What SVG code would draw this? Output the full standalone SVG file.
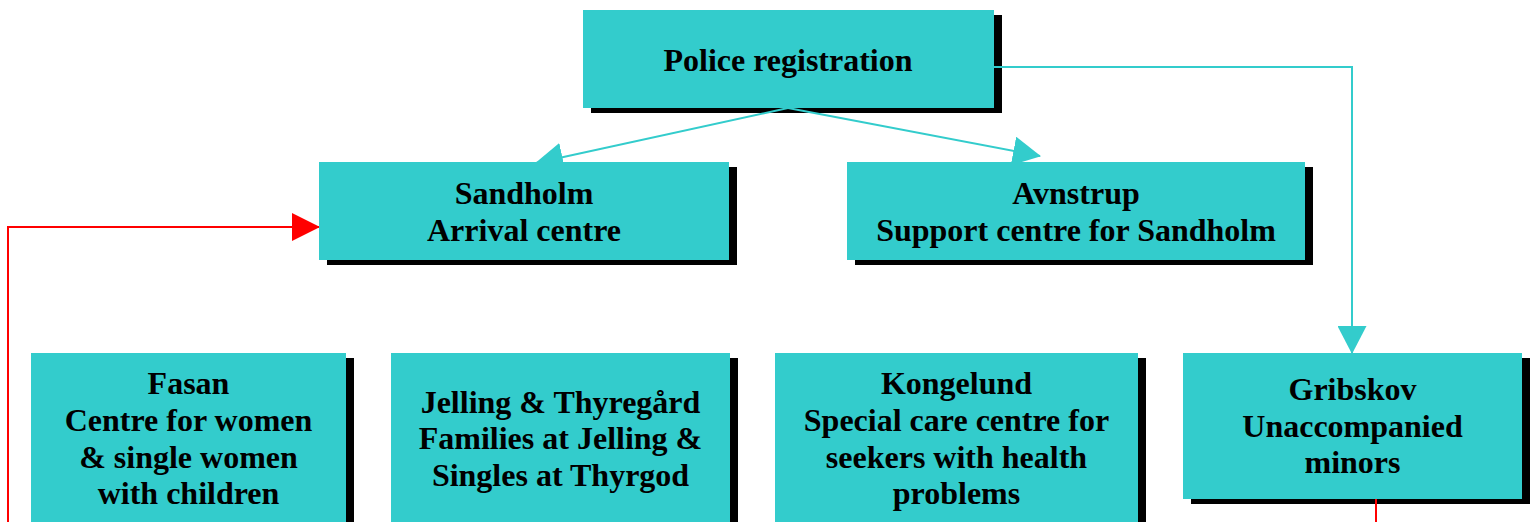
<svg xmlns="http://www.w3.org/2000/svg" width="1533" height="522" viewBox="0 0 1533 522">
  <style>
    .box { fill: #33CCCC; }
    .shadow { fill: #000000; }
    .label { font-family: "Liberation Serif", "Times New Roman", serif; font-weight: bold; font-size: 32px; fill: #000000; text-anchor: middle; }
    .teal { fill: none; stroke: #33CCCC; stroke-width: 2; }
    .red { fill: none; stroke: #FF0000; stroke-width: 2; }
  </style>
  <defs>
    <marker id="arrTeal" markerUnits="userSpaceOnUse" markerWidth="28" markerHeight="29" refX="27" refY="14.5" orient="auto" viewBox="0 0 28 29">
      <path d="M0,0 L28,14.5 L0,29 Z" fill="#33CCCC"/>
    </marker>
    <marker id="arrRed" markerUnits="userSpaceOnUse" markerWidth="28" markerHeight="28" refX="27" refY="14" orient="auto" viewBox="0 0 28 28">
      <path d="M0,0 L28,14 L0,28 Z" fill="#FF0000"/>
    </marker>
  </defs>

  <g id="police">
    <rect class="shadow" x="591" y="15" width="411" height="98"/>
    <rect class="box" x="583" y="10" width="411" height="98"/>
    <text class="label" x="788" y="71">Police registration</text>
  </g>

  <g id="gribskov">
    <rect class="shadow" x="1191" y="358" width="339" height="146"/>
    <rect class="box" x="1183" y="353" width="339" height="146"/>
    <text class="label" x="1352.5" y="400">Gribskov</text>
    <text class="label" x="1352.5" y="437">Unaccompanied</text>
    <text class="label" x="1352.5" y="473">minors</text>
  </g>

  <g id="connectors">
    <path class="teal" d="M788,108 L536,163" marker-end="url(#arrTeal)"/>
    <path class="teal" d="M788,108 L1040,156" marker-end="url(#arrTeal)"/>
    <path class="teal" d="M994,67 H1352 V353" marker-end="url(#arrTeal)"/>
    <path class="red" d="M1376,499 V560 H8 V227 H319" marker-end="url(#arrRed)"/>
  </g>

  <g id="sandholm">
    <rect class="shadow" x="327" y="167" width="410" height="98"/>
    <rect class="box" x="319" y="162" width="410" height="98"/>
    <text class="label" x="524" y="204">Sandholm</text>
    <text class="label" x="524" y="241">Arrival centre</text>
  </g>

  <g id="avnstrup">
    <rect class="shadow" x="855" y="167" width="458" height="98"/>
    <rect class="box" x="847" y="162" width="458" height="98"/>
    <text class="label" x="1076" y="204">Avnstrup</text>
    <text class="label" x="1076" y="241">Support centre for Sandholm</text>
  </g>

  <g id="fasan">
    <rect class="shadow" x="39" y="358" width="315" height="200"/>
    <rect class="box" x="31" y="353" width="315" height="200"/>
    <text class="label" x="188.5" y="394">Fasan</text>
    <text class="label" x="188.5" y="431">Centre for women</text>
    <text class="label" x="188.5" y="468">&amp; single women</text>
    <text class="label" x="188.5" y="504">with children</text>
  </g>

  <g id="jelling">
    <rect class="shadow" x="399" y="358" width="339" height="200"/>
    <rect class="box" x="391" y="353" width="339" height="200"/>
    <text class="label" x="560.5" y="413">Jelling &amp; Thyregård</text>
    <text class="label" x="560.5" y="449">Families at Jelling &amp;</text>
    <text class="label" x="560.5" y="486">Singles at Thyrgod</text>
  </g>

  <g id="kongelund">
    <rect class="shadow" x="783" y="358" width="363" height="200"/>
    <rect class="box" x="775" y="353" width="363" height="200"/>
    <text class="label" x="956.5" y="394">Kongelund</text>
    <text class="label" x="956.5" y="431">Special care centre for</text>
    <text class="label" x="956.5" y="468">seekers with health</text>
    <text class="label" x="956.5" y="504">problems</text>
  </g>
</svg>
